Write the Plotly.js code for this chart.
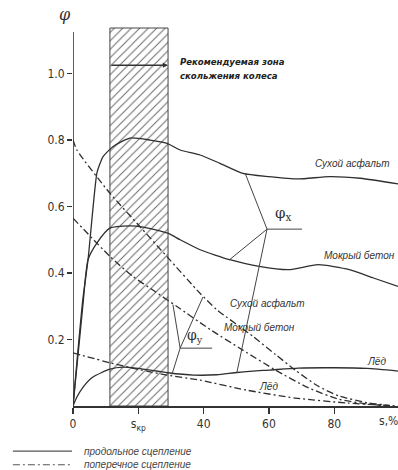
<!DOCTYPE html>
<html>
<head>
<meta charset="utf-8">
<script src="https://cdn.plot.ly/plotly-3.0.1.min.js"></script>
<style>
html,body{margin:0;padding:0;background:#fff;}
#chart{width:398px;height:470px;}
</style>
</head>
<body>
<div id="chart"></div>
<script>
// ---- data ----
// longitudinal adhesion (solid)
const dryLongX = [0, 3, 4.6, 7.3, 8.3, 9.2, 12.2, 17.4, 23.6, 28.8, 32.8, 38.9, 45, 52, 60, 69, 78.5, 88, 99.5];
const dryLongY = [0, 0.32, 0.44, 0.70, 0.73, 0.75, 0.78, 0.806, 0.80, 0.79, 0.77, 0.755, 0.73, 0.70, 0.69, 0.683, 0.69, 0.685, 0.668];
const wetLongX = [0, 3, 4.6, 7.3, 11.3, 17.4, 21.5, 29, 32.8, 38.9, 43.5, 48, 57, 66, 75, 84.6, 92, 99.5];
const wetLongY = [0, 0.30, 0.44, 0.49, 0.535, 0.542, 0.538, 0.52, 0.50, 0.47, 0.454, 0.44, 0.42, 0.41, 0.425, 0.41, 0.385, 0.36];
const iceLongX = [0, 1.2, 3.1, 6.1, 11.3, 15.3, 20, 29, 37, 44, 49.5, 55, 60, 69, 80, 90, 99.5];
const iceLongY = [0, 0.027, 0.057, 0.087, 0.111, 0.117, 0.113, 0.10, 0.093, 0.094, 0.10, 0.105, 0.108, 0.114, 0.115, 0.113, 0.105];
// lateral adhesion (dash-dot)
const dryLatX = [0, 1.2, 11.3, 20, 28.7, 38.8, 44, 55, 62, 68, 75, 81.5, 90, 97];
const dryLatY = [0.80, 0.77, 0.64, 0.545, 0.45, 0.34, 0.29, 0.21, 0.155, 0.108, 0.06, 0.03, 0.01, 0.002];
const wetLatX = [0, 11.3, 18.3, 25, 31.7, 42, 52, 62, 72, 81.5, 90, 97];
const wetLatY = [0.565, 0.45, 0.39, 0.345, 0.30, 0.23, 0.168, 0.108, 0.055, 0.02, 0.006, 0];
const iceLatX = [0, 11.3, 20, 28.7, 38.8, 53, 68, 84, 99.5];
const iceLatY = [0.16, 0.13, 0.11, 0.093, 0.078, 0.048, 0.024, 0.009, 0];
// recommended slip zone
const zoneStart = 11.3, zoneEnd = 29.1, zoneTop = 1.137, zoneArrowY = 1.025;
// φx / φy leader lines
const phiXVertex = [59.4, 0.532];
const phiXTargets = [[52.7, 0.70], [47.8, 0.439], [50.2, 0.102]];
const phiXBar = [70.1, 0.532];
const phiYVertex = [32.8, 0.174];
const phiYTargets = [[30.6, 0.305], [39.8, 0.328], [30.3, 0.095]];
const phiYBar = [42.6, 0.174];
// ticks
const xTickVals = [0, 20, 40, 60, 80];
const xTickText = ['0', 's<sub>кр</sub>', '40', '60', '80'];
const yTickVals = [0.2, 0.4, 0.6, 0.8, 1.0];
const yTickText = ['0.2', '0.4', '0.6', '0.8', '1.0'];
// labels
const curveLabels = [
  {text: 'Сухой асфальт', x: 73.5, y: 0.73},
  {text: 'Мокрый бетон', x: 76.2, y: 0.452},
  {text: 'Сухой асфальт', x: 47.5, y: 0.307},
  {text: 'Мокрый бетон', x: 45.6, y: 0.235},
  {text: 'Лёд', x: 89.4, y: 0.133},
  {text: 'Лёд', x: 56.3, y: 0.06}
];
const legendTexts = ['продольное сцепление', 'поперечное сцепление'];

// ---- drawing ----
const ink = '#2f2f2f';
const narrow = '"Liberation Sans Narrow", "DejaVu Sans Condensed", "Arial Narrow", "Liberation Sans", sans-serif';
const sans = '"Liberation Sans", Arial, sans-serif';
const dashDot = '7px,3px,2px,3px';

const traces = [];
traces.push({
  type: 'bar', x: [(zoneStart + zoneEnd) / 2], y: [zoneTop], width: [zoneEnd - zoneStart],
  marker: {color: 'white', pattern: {shape: '/', fgcolor: '#666', bgcolor: 'white', size: 6, solidity: 0.16},
           line: {color: '#444', width: 1}},
  hoverinfo: 'skip'
});
function curve(x, y, dash) {
  return {type: 'scatter', mode: 'lines', x: x, y: y, hoverinfo: 'skip',
          line: {color: ink, width: 1.3, shape: 'spline', smoothing: 0.6, dash: dash || 'solid'}};
}
traces.push(curve(dryLongX, dryLongY));
traces.push(curve(wetLongX, wetLongY));
traces.push(curve(iceLongX, iceLongY));
traces.push(curve(dryLatX, dryLatY, dashDot));
traces.push(curve(wetLatX, wetLatY, dashDot));
traces.push(curve(iceLatX, iceLatY, dashDot));

function leader(vertex, targets, bar) {
  const xs = [], ys = [];
  targets.forEach(t => { xs.push(vertex[0], t[0], null); ys.push(vertex[1], t[1], null); });
  xs.push(vertex[0], bar[0]); ys.push(vertex[1], bar[1]);
  return {type: 'scatter', mode: 'lines', x: xs, y: ys, hoverinfo: 'skip',
          line: {color: '#444', width: 1}};
}
traces.push(leader(phiXVertex, phiXTargets, phiXBar));
traces.push(leader(phiYVertex, phiYTargets, phiYBar));

const annotations = [];
curveLabels.forEach(l => annotations.push({
  x: l.x, y: l.y, xref: 'x', yref: 'y', text: '<i>' + l.text + '</i>', showarrow: false,
  xanchor: 'left', yanchor: 'middle', font: {family: sans, size: 10, color: '#333'}
}));
annotations.push({x: phiXVertex[0] + 1.8, y: phiXVertex[1] + 0.012, xref: 'x', yref: 'y',
  text: 'φ<sub>x</sub>', showarrow: false, xanchor: 'left', yanchor: 'bottom',
  font: {family: '"DejaVu Serif", serif', size: 15, color: '#333'}});
annotations.push({x: phiYVertex[0] + 1.5, y: phiYVertex[1] + 0.004, xref: 'x', yref: 'y',
  text: 'φ<sub>y</sub>', showarrow: false, xanchor: 'left', yanchor: 'bottom',
  font: {family: '"DejaVu Serif", serif', size: 14, color: '#333'}});
annotations.push({x: zoneEnd, y: zoneArrowY, ax: zoneStart, ay: zoneArrowY, xref: 'x', yref: 'y',
  axref: 'x', ayref: 'y', text: '', showarrow: true, arrowhead: 2, arrowsize: 0.8, arrowwidth: 1.3,
  arrowcolor: '#333', standoff: 0});
annotations.push({x: 32.1, y: 1.035, xref: 'x', yref: 'y', text: '<b><i>Рекомендуемая зона</i></b>',
  showarrow: false, xanchor: 'left', yanchor: 'middle', font: {family: narrow, size: 9.5, color: '#222'}});
annotations.push({x: 32.1, y: 0.993, xref: 'x', yref: 'y', text: '<b><i>скольжения колеса</i></b>',
  showarrow: false, xanchor: 'left', yanchor: 'middle', font: {family: narrow, size: 9.5, color: '#222'}});
annotations.push({x: -0.025, y: 1.033, xref: 'paper', yref: 'paper', text: '<i>φ</i>', showarrow: false,
  xanchor: 'center', yanchor: 'middle', font: {family: '"DejaVu Serif", serif', size: 16, color: '#333'}});
annotations.push({x: 0.972, y: -0.04, xref: 'paper', yref: 'paper', text: 's,%', showarrow: false,
  xanchor: 'center', yanchor: 'middle', font: {family: narrow, size: 12, color: '#333'}});
annotations.push({x: 0.028, y: -0.119, xref: 'paper', yref: 'paper', text: '<i>' + legendTexts[0] + '</i>',
  showarrow: false, xanchor: 'left', yanchor: 'middle', font: {family: sans, size: 10, color: '#444'}});
annotations.push({x: 0.028, y: -0.155, xref: 'paper', yref: 'paper', text: '<i>' + legendTexts[1] + '</i>',
  showarrow: false, xanchor: 'left', yanchor: 'middle', font: {family: sans, size: 10, color: '#444'}});

const shapes = [
  {type: 'line', xref: 'x', yref: 'y', x0: 0, x1: 0, y0: -0.01, y1: 1.125, line: {color: '#333', width: 1.6}},
  {type: 'line', xref: 'paper', yref: 'paper', x0: -0.185, x1: -0.003, y0: -0.119, y1: -0.119, line: {color: '#555', width: 1.2}},
  {type: 'line', xref: 'paper', yref: 'paper', x0: -0.185, x1: -0.003, y0: -0.155, y1: -0.155, line: {color: '#555', width: 1.2, dash: dashDot}}
];

const layout = {
  width: 398, height: 470,
  margin: {l: 73, r: 0, t: 27, b: 64},
  paper_bgcolor: 'white', plot_bgcolor: 'white',
  showlegend: false,
  xaxis: {range: [0, 99.5], showgrid: false, zeroline: false, showline: true, linecolor: '#333', linewidth: 2,
          ticks: 'outside', ticklen: 6, tickwidth: 1.5, tickcolor: '#333',
          tickvals: xTickVals, ticktext: xTickText, tickfont: {family: narrow, size: 12, color: '#333'}},
  yaxis: {range: [0, 1.14], showgrid: false, zeroline: false, showline: false,
          ticks: 'outside', ticklen: 5, tickwidth: 1.3, tickcolor: '#333',
          tickvals: yTickVals, ticktext: yTickText, tickfont: {family: narrow, size: 12, color: '#333'}},
  shapes: shapes,
  annotations: annotations
};

Plotly.newPlot('chart', traces, layout, {displayModeBar: false, staticPlot: true});
</script>
</body>
</html>
